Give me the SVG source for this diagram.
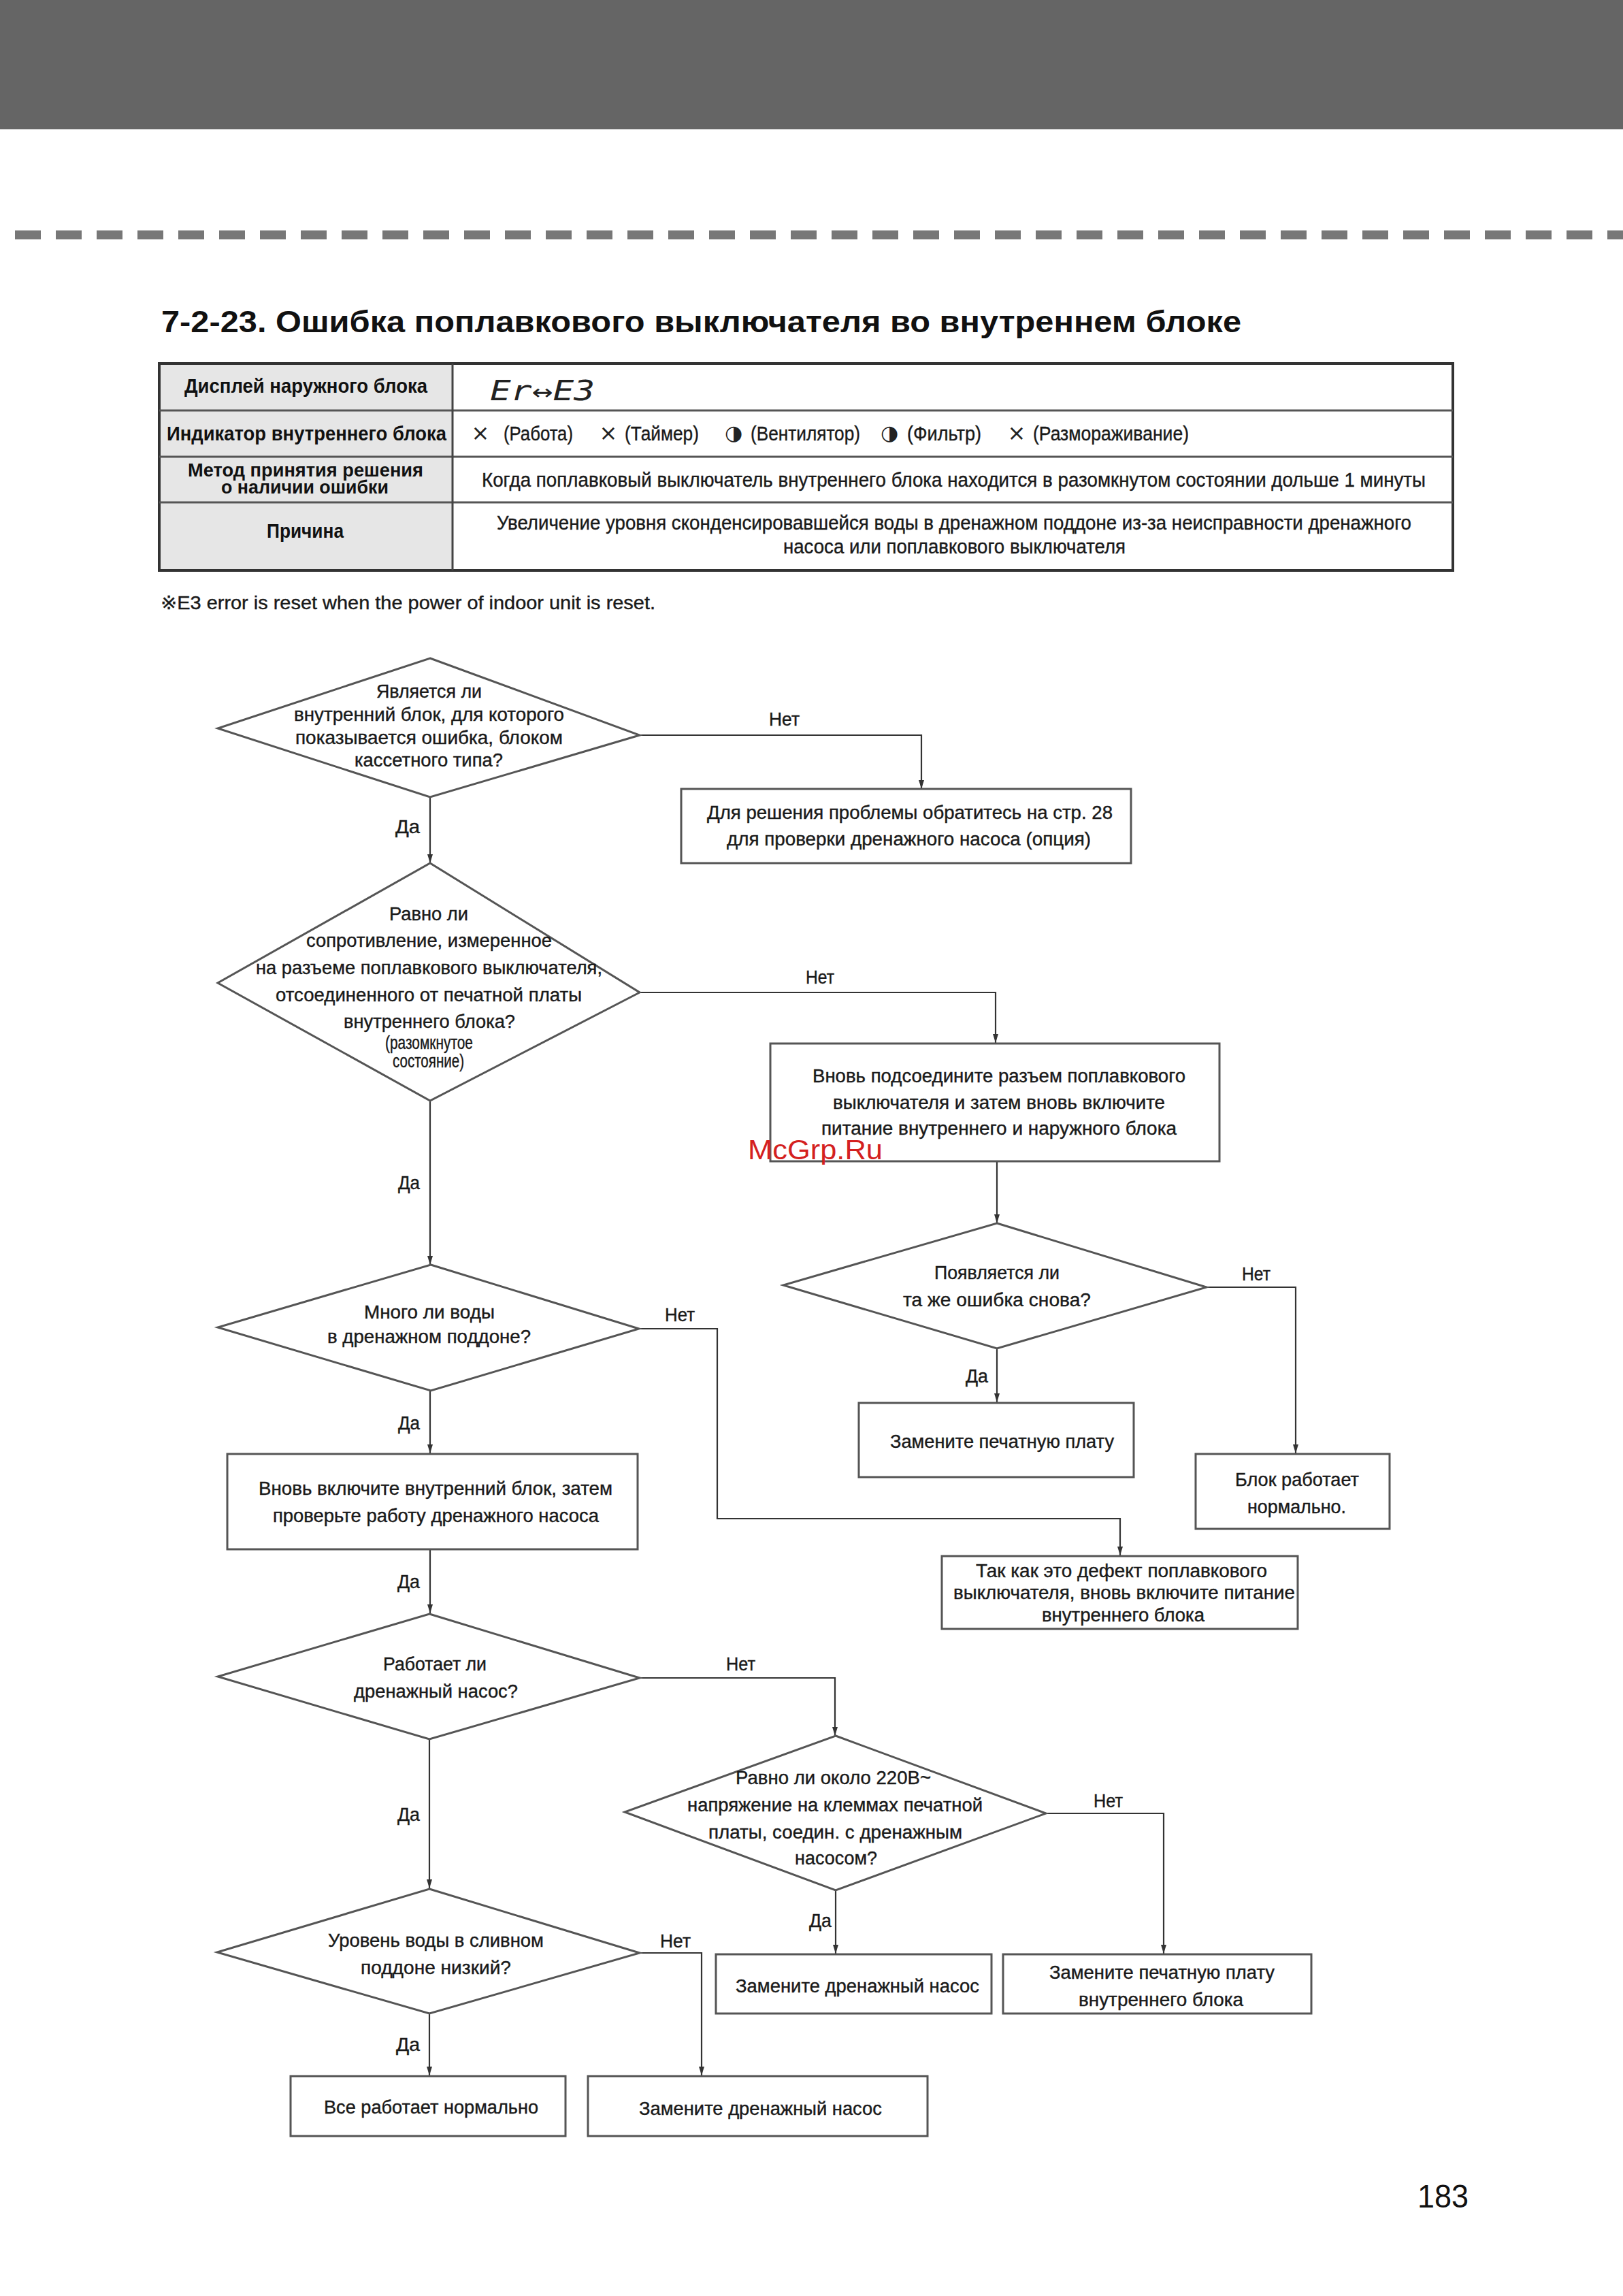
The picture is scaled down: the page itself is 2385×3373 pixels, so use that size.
<svg xmlns="http://www.w3.org/2000/svg" width="2385" height="3373" viewBox="0 0 2385 3373">
<style>
.t{font-family:"Liberation Sans","DejaVu Sans",Arial,sans-serif;font-size:27px;fill:#1a1a1a;stroke:#1a1a1a;stroke-width:0.4}
.tb{font-family:"Liberation Sans","DejaVu Sans",Arial,sans-serif;font-weight:bold;fill:#111}
.tt{font-family:"Liberation Sans","DejaVu Sans",Arial,sans-serif;font-size:30px;fill:#1a1a1a;stroke:#1a1a1a;stroke-width:0.4}
.sym{font-family:"DejaVu Sans","Liberation Sans",sans-serif;fill:#222}
.shape{fill:#fff;stroke:#555;stroke-width:3}
.conn{fill:none;stroke:#333;stroke-width:2.2;marker-end:url(#arr)}
.lbl{font-family:"Liberation Sans",Arial,sans-serif;font-size:27px;fill:#1a1a1a;stroke:#1a1a1a;stroke-width:0.4}
</style>
<defs>
<marker id="arr" markerUnits="userSpaceOnUse" markerWidth="13" markerHeight="8" refX="13" refY="4" orient="auto">
<path d="M0,0 L13,4 L0,8 z" fill="#333"/>
</marker>
</defs>
<rect x="0" y="0" width="2385" height="3373" fill="#fff"/>
<rect x="0" y="0" width="2385" height="190" fill="#656565"/>
<line x1="22" y1="345" x2="2385" y2="345" stroke="#777" stroke-width="13" stroke-dasharray="38 22"/>

<g id="title">
<text class="tb" x="237" y="488" font-size="45" textLength="1587" lengthAdjust="spacingAndGlyphs">7-2-23. Ошибка поплавкового выключателя во внутреннем блоке</text>
</g>

<g id="table">
<rect x="234" y="534" width="431" height="304" fill="#e6e6e6"/>
<rect x="234" y="534" width="1901" height="304" fill="none" stroke="#333" stroke-width="4"/>
<line x1="234" y1="603" x2="2135" y2="603" stroke="#555" stroke-width="3"/>
<line x1="234" y1="671" x2="2135" y2="671" stroke="#555" stroke-width="3"/>
<line x1="234" y1="738" x2="2135" y2="738" stroke="#555" stroke-width="3"/>
<line x1="665" y1="534" x2="665" y2="838" stroke="#444" stroke-width="3"/>
<text class="tb" x="271" y="577" font-size="30" textLength="357" lengthAdjust="spacingAndGlyphs">Дисплей наружного блока</text>
<text x="720" y="588" font-family="'DejaVu Sans Mono','Liberation Mono',monospace" font-style="italic" font-size="40" fill="#222" textLength="154" lengthAdjust="spacingAndGlyphs">Er↔E3</text>
<text class="tb" x="245" y="647" font-size="30" textLength="411" lengthAdjust="spacingAndGlyphs">Индикатор внутреннего блока</text>
<text class="sym" x="706" y="647" font-size="32" text-anchor="middle">×</text>
<text class="tt" x="740" y="647" textLength="102" lengthAdjust="spacingAndGlyphs">(Работа)</text>
<text class="sym" x="894" y="647" font-size="32" text-anchor="middle">×</text>
<text class="tt" x="918" y="647" textLength="109" lengthAdjust="spacingAndGlyphs">(Таймер)</text>
<text class="sym" x="1078" y="646" font-size="30" text-anchor="middle">◑</text>
<text class="tt" x="1103" y="647" textLength="161" lengthAdjust="spacingAndGlyphs">(Вентилятор)</text>
<text class="sym" x="1307" y="646" font-size="30" text-anchor="middle">◑</text>
<text class="tt" x="1333" y="647" textLength="109" lengthAdjust="spacingAndGlyphs">(Фильтр)</text>
<text class="sym" x="1494" y="647" font-size="32" text-anchor="middle">×</text>
<text class="tt" x="1518" y="647" textLength="229" lengthAdjust="spacingAndGlyphs">(Размораживание)</text>
<text class="tb" x="276" y="700" font-size="28" textLength="346" lengthAdjust="spacingAndGlyphs">Метод принятия решения</text>
<text class="tb" x="325" y="725" font-size="28" textLength="246" lengthAdjust="spacingAndGlyphs">о наличии ошибки</text>
<text class="tt" x="708" y="715" textLength="1387" lengthAdjust="spacingAndGlyphs">Когда поплавковый выключатель внутреннего блока находится в разомкнутом состоянии дольше 1 минуты</text>
<text class="tb" x="392" y="790" font-size="30" textLength="113" lengthAdjust="spacingAndGlyphs">Причина</text>
<text class="tt" x="730" y="778" textLength="1344" lengthAdjust="spacingAndGlyphs">Увеличение уровня сконденсировавшейся воды в дренажном поддоне из-за неисправности дренажного</text>
<text class="tt" x="1151" y="813" textLength="503" lengthAdjust="spacingAndGlyphs">насоса или поплавкового выключателя</text>
</g>

<g id="note">
<text class="t" x="236" y="895" font-size="29" textLength="727" lengthAdjust="spacingAndGlyphs">※E3 error is reset when the power of indoor unit is reset.</text>
</g>

<g id="connectors">
<polyline class="conn" points="940,1080 1354,1080 1354,1159"/>
<polyline class="conn" points="632,1171 632,1268"/>
<polyline class="conn" points="940,1458 1463,1458 1463,1532"/>
<polyline class="conn" points="632,1617 632,1858"/>
<polyline class="conn" points="1465,1706 1465,1797"/>
<polyline class="conn" points="1773,1891 1904,1891 1904,2135"/>
<polyline class="conn" points="1465,1981 1465,2060"/>
<polyline class="conn" points="939,1952 1054,1952 1054,2231 1646,2231 1646,2285"/>
<polyline class="conn" points="632,2043 632,2135"/>
<polyline class="conn" points="632,2276 632,2370"/>
<polyline class="conn" points="940,2465 1227,2465 1227,2550"/>
<polyline class="conn" points="631,2555 631,2774"/>
<polyline class="conn" points="1537,2664 1710,2664 1710,2870"/>
<polyline class="conn" points="1228,2777 1228,2870"/>
<polyline class="conn" points="939,2869 1031,2869 1031,3049"/>
<polyline class="conn" points="631,2958 631,3049"/>
<text class="lbl" x="1130" y="1066" textLength="45" lengthAdjust="spacingAndGlyphs">Нет</text>
<text class="lbl" x="581" y="1224" textLength="36" lengthAdjust="spacingAndGlyphs">Да</text>
<text class="lbl" x="1184" y="1445" textLength="42" lengthAdjust="spacingAndGlyphs">Нет</text>
<text class="lbl" x="585" y="1747" textLength="32" lengthAdjust="spacingAndGlyphs">Да</text>
<text class="lbl" x="1825" y="1881" textLength="42" lengthAdjust="spacingAndGlyphs">Нет</text>
<text class="lbl" x="1419" y="2031" textLength="33" lengthAdjust="spacingAndGlyphs">Да</text>
<text class="lbl" x="977" y="1941" textLength="44" lengthAdjust="spacingAndGlyphs">Нет</text>
<text class="lbl" x="585" y="2100" textLength="32" lengthAdjust="spacingAndGlyphs">Да</text>
<text class="lbl" x="584" y="2333" textLength="33" lengthAdjust="spacingAndGlyphs">Да</text>
<text class="lbl" x="1067" y="2454" textLength="43" lengthAdjust="spacingAndGlyphs">Нет</text>
<text class="lbl" x="1607" y="2655" textLength="43" lengthAdjust="spacingAndGlyphs">Нет</text>
<text class="lbl" x="1189" y="2831" textLength="33" lengthAdjust="spacingAndGlyphs">Да</text>
<text class="lbl" x="584" y="2675" textLength="33" lengthAdjust="spacingAndGlyphs">Да</text>
<text class="lbl" x="970" y="2861" textLength="45" lengthAdjust="spacingAndGlyphs">Нет</text>
<text class="lbl" x="582" y="3013" textLength="35" lengthAdjust="spacingAndGlyphs">Да</text>
</g>

<g id="d1">
<polygon class="shape" points="632,967 940,1080 632,1171 320,1070"/>
<text class="t" x="553" y="1025" textLength="155" lengthAdjust="spacingAndGlyphs">Является ли</text>
<text class="t" x="432" y="1059" textLength="397" lengthAdjust="spacingAndGlyphs">внутренний блок, для которого</text>
<text class="t" x="434" y="1093" textLength="393" lengthAdjust="spacingAndGlyphs">показывается ошибка, блоком</text>
<text class="t" x="521" y="1126" textLength="218" lengthAdjust="spacingAndGlyphs">кассетного типа?</text>
</g>

<g id="b1">
<rect class="shape" x="1001" y="1159" width="661" height="109"/>
<text class="t" x="1039" y="1203" textLength="596" lengthAdjust="spacingAndGlyphs">Для решения проблемы обратитесь на стр. 28</text>
<text class="t" x="1068" y="1242" textLength="535" lengthAdjust="spacingAndGlyphs">для проверки дренажного насоса (опция)</text>
</g>

<g id="d2">
<polygon class="shape" points="632,1268 940,1458 632,1617 320,1444"/>
<text class="t" x="572" y="1352" textLength="116" lengthAdjust="spacingAndGlyphs">Равно ли</text>
<text class="t" x="450" y="1391" textLength="361" lengthAdjust="spacingAndGlyphs">сопротивление, измеренное</text>
<text class="t" x="376" y="1431" textLength="509" lengthAdjust="spacingAndGlyphs">на разъеме поплавкового выключателя,</text>
<text class="t" x="405" y="1471" textLength="450" lengthAdjust="spacingAndGlyphs">отсоединенного от печатной платы</text>
<text class="t" x="505" y="1510" textLength="252" lengthAdjust="spacingAndGlyphs">внутреннего блока?</text>
<text class="t" x="566" y="1541" font-size="20" textLength="129" lengthAdjust="spacingAndGlyphs">(разомкнутое</text>
<text class="t" x="577" y="1568" font-size="20" textLength="105" lengthAdjust="spacingAndGlyphs">состояние)</text>
</g>

<g id="b2">
<rect class="shape" x="1132" y="1533" width="660" height="173"/>
<text class="t" x="1194" y="1590" textLength="548" lengthAdjust="spacingAndGlyphs">Вновь подсоедините разъем поплавкового</text>
<text class="t" x="1224" y="1629" textLength="488" lengthAdjust="spacingAndGlyphs">выключателя и затем вновь включите</text>
<text class="t" x="1207" y="1667" textLength="522" lengthAdjust="spacingAndGlyphs">питание внутреннего и наружного блока</text>
</g>

<g id="watermark">
<text x="1099" y="1703" font-family="'Liberation Sans',Arial,sans-serif" font-size="40" fill="#d42020" textLength="198" lengthAdjust="spacingAndGlyphs">McGrp.Ru</text>
</g>

<g id="d3">
<polygon class="shape" points="1465,1797 1773,1891 1465,1981 1151,1888"/>
<text class="t" x="1373" y="1879" textLength="184" lengthAdjust="spacingAndGlyphs">Появляется ли</text>
<text class="t" x="1327" y="1919" textLength="276" lengthAdjust="spacingAndGlyphs">та же ошибка снова?</text>
</g>

<g id="b3">
<rect class="shape" x="1262" y="2061" width="404" height="109"/>
<text class="t" x="1308" y="2127" textLength="329" lengthAdjust="spacingAndGlyphs">Замените печатную плату</text>
</g>

<g id="b4">
<rect class="shape" x="1757" y="2136" width="285" height="110"/>
<text class="t" x="1815" y="2183" textLength="182" lengthAdjust="spacingAndGlyphs">Блок работает</text>
<text class="t" x="1833" y="2223" textLength="145" lengthAdjust="spacingAndGlyphs">нормально.</text>
</g>

<g id="d4">
<polygon class="shape" points="633,1858 939,1952 633,2043 320,1950"/>
<text class="t" x="535" y="1937" textLength="192" lengthAdjust="spacingAndGlyphs">Много ли воды</text>
<text class="t" x="481" y="1973" textLength="299" lengthAdjust="spacingAndGlyphs">в дренажном поддоне?</text>
</g>

<g id="b5">
<rect class="shape" x="334" y="2136" width="603" height="140"/>
<text class="t" x="380" y="2196" textLength="520" lengthAdjust="spacingAndGlyphs">Вновь включите внутренний блок, затем</text>
<text class="t" x="401" y="2236" textLength="479" lengthAdjust="spacingAndGlyphs">проверьте работу дренажного насоса</text>
</g>

<g id="b6">
<rect class="shape" x="1384" y="2286" width="523" height="107"/>
<text class="t" x="1434" y="2317" textLength="428" lengthAdjust="spacingAndGlyphs">Так как это дефект поплавкового</text>
<text class="t" x="1401" y="2349" textLength="502" lengthAdjust="spacingAndGlyphs">выключателя, вновь включите питание</text>
<text class="t" x="1531" y="2382" textLength="239" lengthAdjust="spacingAndGlyphs">внутреннего блока</text>
</g>

<g id="d5">
<polygon class="shape" points="631,2371 940,2465 631,2555 320,2463"/>
<text class="t" x="563" y="2454" textLength="152" lengthAdjust="spacingAndGlyphs">Работает ли</text>
<text class="t" x="520" y="2494" textLength="241" lengthAdjust="spacingAndGlyphs">дренажный насос?</text>
</g>

<g id="d6">
<polygon class="shape" points="1228,2550 1537,2664 1228,2777 918,2662"/>
<text class="t" x="1081" y="2621" textLength="287" lengthAdjust="spacingAndGlyphs">Равно ли около 220В~</text>
<text class="t" x="1010" y="2661" textLength="434" lengthAdjust="spacingAndGlyphs">напряжение на клеммах печатной</text>
<text class="t" x="1041" y="2701" textLength="373" lengthAdjust="spacingAndGlyphs">платы, соедин. с дренажным</text>
<text class="t" x="1168" y="2739" textLength="121" lengthAdjust="spacingAndGlyphs">насосом?</text>
</g>

<g id="b7">
<rect class="shape" x="1052" y="2871" width="405" height="87"/>
<text class="t" x="1081" y="2927" textLength="358" lengthAdjust="spacingAndGlyphs">Замените дренажный насос</text>
</g>

<g id="b8">
<rect class="shape" x="1474" y="2871" width="453" height="87"/>
<text class="t" x="1542" y="2907" textLength="331" lengthAdjust="spacingAndGlyphs">Замените печатную плату</text>
<text class="t" x="1585" y="2947" textLength="242" lengthAdjust="spacingAndGlyphs">внутреннего блока</text>
</g>

<g id="d7">
<polygon class="shape" points="631,2775 940,2869 631,2958 319,2868"/>
<text class="t" x="482" y="2860" textLength="317" lengthAdjust="spacingAndGlyphs">Уровень воды в сливном</text>
<text class="t" x="530" y="2900" textLength="221" lengthAdjust="spacingAndGlyphs">поддоне низкий?</text>
</g>

<g id="b9">
<rect class="shape" x="427" y="3050" width="404" height="88"/>
<text class="t" x="476" y="3105" textLength="315" lengthAdjust="spacingAndGlyphs">Все работает нормально</text>
</g>

<g id="b10">
<rect class="shape" x="864" y="3050" width="499" height="88"/>
<text class="t" x="939" y="3107" textLength="357" lengthAdjust="spacingAndGlyphs">Замените дренажный насос</text>
</g>

<g id="page-number">
<text x="2083" y="3243" font-family="'Liberation Sans',Arial,sans-serif" font-size="48" fill="#111" textLength="75" lengthAdjust="spacingAndGlyphs">183</text>
</g>
</svg>
